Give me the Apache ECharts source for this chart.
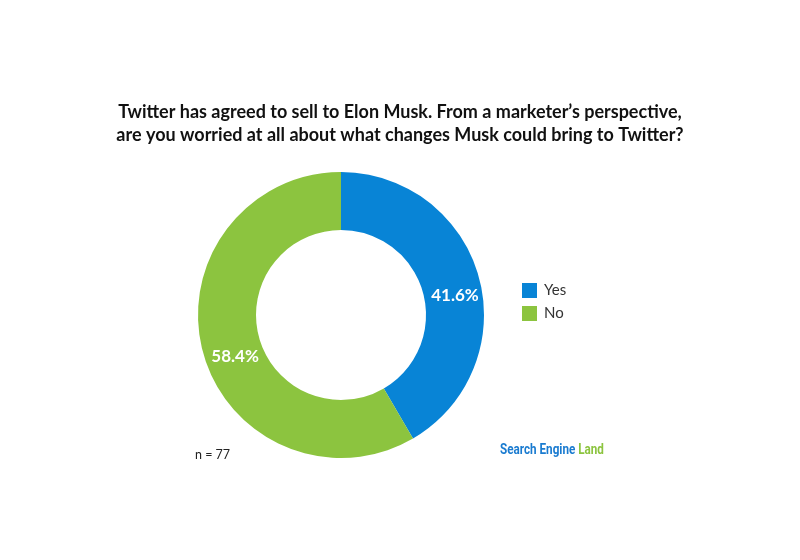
<!DOCTYPE html>
<html><head><meta charset="utf-8">
<script src="https://cdn.jsdelivr.net/npm/echarts@6/dist/echarts.min.js"></script>
<style>html,body{margin:0;padding:0;background:#fff}#c{width:800px;height:560px}</style>
</head><body><div id="c"></div>
<script>
const categories = ['Yes', 'No'];
const values = [41.6, 58.4];
const colors = ['#0884D6', '#8CC43F'];
const titleText = 'Twitter has agreed to sell to Elon Musk. From a marketer\u2019s perspective,\nare you worried at all about what changes Musk could bring to Twitter?';
const noteText = 'n = 77';

const chart = echarts.init(document.getElementById('c'));
chart.setOption({
  backgroundColor: '#fff',
  animation: false,
  title: {
    text: titleText,
    left: 'center',
    top: 96,
    textStyle: { fontFamily: 'Lato', fontWeight: 'bold', fontSize: 18, lineHeight: 23, color: '#111' }
  },
  legend: {
    orient: 'vertical',
    left: 517,
    top: 278,
    itemWidth: 15,
    itemHeight: 15,
    itemGap: 8,
    icon: 'rect',
    textStyle: { fontFamily: 'Lato', fontSize: 15, color: '#333', padding: [0,0,0,2] },
    data: categories
  },
  graphic: [
    { type: 'text', left: 195, top: 448, style: { text: noteText, fontFamily: 'Lato', fontSize: 12.5, fill: '#222' } },
    { type: 'text', x: 500, y: 443, scaleX: 0.78, style: {
        text: '{a|Search Engine }{b|Land}',
        rich: {
          a: { fontFamily: 'Roboto', fontWeight: 'bold', fontSize: 15, fill: '#1A7BD0' },
          b: { fontFamily: 'Roboto', fontWeight: 'bold', fontSize: 15, fill: '#8CC43F' }
        }
      } }
  ],
  series: [{
    type: 'pie',
    center: [341, 315],
    radius: [85, 143],
    startAngle: 90,
    clockwise: true,
    label: {
      show: true,
      position: 'inside',
      formatter: p => p.value.toFixed(1) + '%',
      fontFamily: 'Lato', fontWeight: 'bold', fontSize: 17, color: '#fff'
    },
    labelLayout: p => ({ dy: 11, dx: p.dataIndex === 1 ? 7 : 1 }),
    labelLine: { show: false },
    emphasis: { disabled: true },
    itemStyle: { borderWidth: 0 },
    data: categories.map((c, i) => ({ name: c, value: values[i], itemStyle: { color: colors[i] } }))
  }]
});
</script></body></html>
